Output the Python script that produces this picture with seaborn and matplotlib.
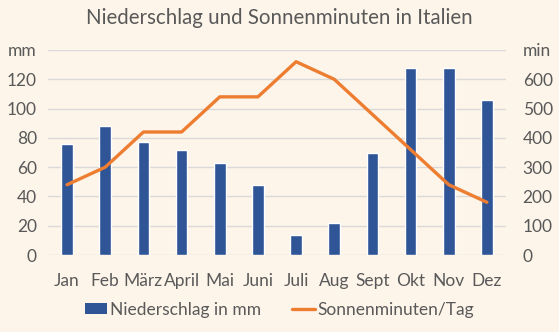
import matplotlib
matplotlib.use("Agg")
import matplotlib.pyplot as plt
import seaborn as sns
import pandas as pd
from matplotlib.patches import Patch
from matplotlib.lines import Line2D

months = ["Jan", "Feb", "März", "April", "Mai", "Juni", "Juli", "Aug", "Sept", "Okt", "Nov", "Dez"]
niederschlag = [76, 88, 77, 72, 63, 48, 14, 22, 70, 128, 128, 106]
sonnenminuten = [240, 300, 420, 420, 540, 540, 660, 600, 480, 360, 240, 180]
left_ticks = [0, 20, 40, 60, 80, 100, 120, 140]
left_labels = ["0", "20", "40", "60", "80", "100", "120", "mm"]
right_ticks = [0, 100, 200, 300, 400, 500, 600, 700]
right_labels = ["0", "100", "200", "300", "400", "500", "600", "min"]

df = pd.DataFrame({"Monat": months, "Niederschlag": niederschlag, "Sonne": sonnenminuten})

bg = "#FDF5EA"
blue = "#2F5597"
orange = "#ED7D31"
txt = "#595959"
grid = "#D9D9D9"

sns.set_theme(style="white")
plt.rcParams['font.family'] = ['Lato', 'DejaVu Sans']

fig = plt.figure(figsize=(5.59, 3.32), dpi=100, facecolor=bg)
ax = fig.add_axes([48/559, 1-255/332, 458/559, 205/332])
ax.set_facecolor(bg)

sns.barplot(data=df, x="Monat", y="Niederschlag", color=blue, width=0.31,
            saturation=1, ax=ax, zorder=3)
ax.set_ylim(0, 140)
ax.set_xlim(-0.5, 11.5)
ax.set_yticks(left_ticks)
ax.set_yticklabels(left_labels)
ax.yaxis.grid(True, color=grid, linewidth=1, zorder=0)
ax.set_axisbelow(True)
for s in ax.spines.values():
    s.set_visible(False)
ax.set_xlabel("")
ax.set_ylabel("")
ax.tick_params(axis="both", length=0, colors=txt, labelsize=12.5)
ax.tick_params(axis="y", pad=8)
ax.tick_params(axis="x", pad=13)

ax2 = ax.twinx()
sns.lineplot(x=list(range(len(months))), y=sonnenminuten, color=orange, linewidth=2.4,
             ax=ax2, zorder=4)
ax2.set_ylim(0, 700)
ax2.set_yticks(right_ticks)
ax2.set_yticklabels(right_labels)
for s in ax2.spines.values():
    s.set_visible(False)
ax2.tick_params(axis="y", length=0, colors=txt, labelsize=12.5, pad=12)
ax2.set_ylabel("")
ax2.grid(False)

fig.text(0.5, 1-18/332, "Niederschlag und Sonnenminuten in Italien", ha="center", va="center",
         fontsize=14.8, color=txt)

handles = [Patch(facecolor=blue, edgecolor="none"),
           Line2D([0], [0], color=orange, linewidth=2.4)]
fig.legend(handles, ["Niederschlag in mm", "Sonnenminuten/Tag"], loc="center",
           bbox_to_anchor=(0.5, 1-310/332), ncol=2, frameon=False, fontsize=12.5,
           labelcolor=txt, handlelength=1.3, handleheight=0.6, handletextpad=0.15,
           columnspacing=1.8)

fig.savefig("out.png", dpi=100, facecolor=bg)
